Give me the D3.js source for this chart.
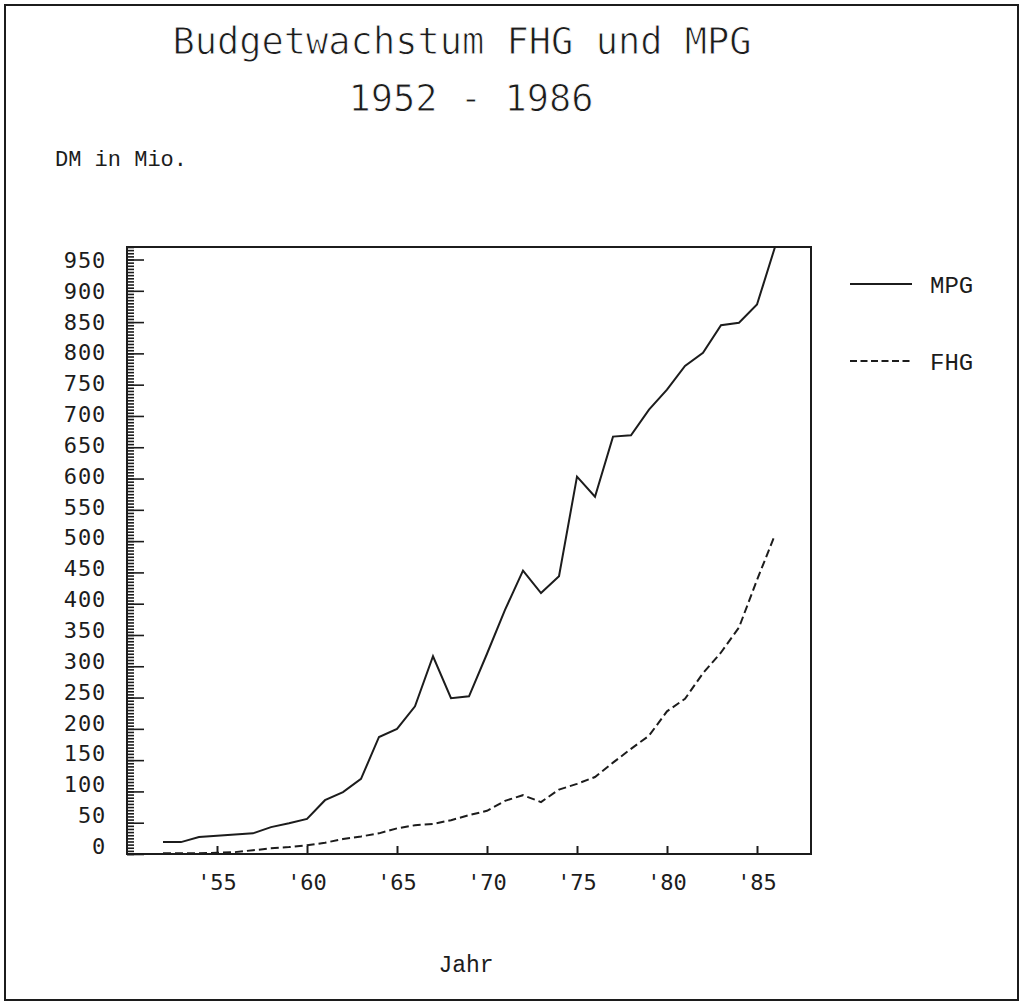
<!DOCTYPE html>
<html>
<head>
<meta charset="utf-8">
<script src="https://cdn.jsdelivr.net/npm/d3@7"></script>
<style>
  html, body { margin: 0; padding: 0; background: #fff; }
  svg { display: block; }
</style>
</head>
<body>
<svg id="chart" width="1029" height="1004"></svg>
<script>
// ---- data ----
const years = d3.range(1952, 1987);
const mpg = [19,19,27,29,31,33,43,49,56,86,99,120,187,200,236,316,249,252,320,390,453,417,444,603,571,667,669,710,742,780,801,845,849,878,970];
const fhg = [1,1,1,2,3,6,9,11,14,18,24,28,33,41,46,48,54,62,69,85,94,83,103,112,123,146,168,189,228,248,289,322,362,438,510];
const yMajorTicks = d3.range(0, 951, 50);
const yMinorTicks = d3.range(0, 971, 5);
const xTicks = [1955, 1960, 1965, 1970, 1975, 1980, 1985];
const xTickLabels = ["'55", "'60", "'65", "'70", "'75", "'80", "'85"];
const seriesNames = ["MPG", "FHG"];
const titleLines = ["Budgetwachstum FHG und MPG", "1952 - 1986"];
const yTitle = "DM in Mio.";
const xTitle = "Jahr";

const ink = "#1c1c1c";
const svg = d3.select("#chart");

// outer frame
svg.append("rect").attr("x", 5).attr("y", 5).attr("width", 1013).attr("height", 995)
  .attr("fill", "#fff").attr("stroke", ink).attr("stroke-width", 2);

const L = 127, R = 811, T = 247, B = 854;
const x = d3.scaleLinear().domain([1950, 1988]).range([L, R]);
const y = d3.scaleLinear().domain([0, 970]).range([B, T]);
const yLab = d3.scaleLinear().domain([0, 950]).range([846, 260]);

// plot box
svg.append("rect").attr("x", L).attr("y", T).attr("width", R - L).attr("height", B - T)
  .attr("fill", "none").attr("stroke", ink).attr("stroke-width", 2);

// y ticks (inward)
const gMinor = svg.append("g").attr("transform", `translate(${L},0)`)
  .call(d3.axisLeft(y).tickValues(yMinorTicks).tickSize(-7).tickFormat(""));
const gMajor = svg.append("g").attr("transform", `translate(${L},0)`)
  .call(d3.axisLeft(y).tickValues(yMajorTicks).tickSize(-17).tickFormat(""));
[gMinor, gMajor].forEach(g => {
  g.select(".domain").remove();
  g.selectAll("line").attr("stroke", ink).attr("stroke-width", 1.6);
});

// x ticks (inward)
const gx = svg.append("g").attr("transform", `translate(0,${B})`)
  .call(d3.axisBottom(x).tickValues(xTicks).tickSize(-8).tickFormat(""));
gx.select(".domain").remove();
gx.selectAll("line").attr("stroke", ink).attr("stroke-width", 2);

// y labels
svg.append("g").selectAll("text").data(yMajorTicks).join("text")
  .attr("x", 106).attr("y", d => yLab(d)).attr("dy", "0.36em")
  .attr("text-anchor", "end")
  .attr("font-family", "DejaVu Sans Mono").attr("font-size", 22)
  .attr("letter-spacing", 0.8).attr("fill", ink)
  .text(d => d);

// x labels
svg.append("g").selectAll("text").data(xTicks).join("text")
  .attr("x", d => x(d)).attr("y", 890)
  .attr("text-anchor", "middle")
  .attr("font-family", "DejaVu Sans Mono").attr("font-size", 22)
  .attr("fill", ink)
  .text((d, i) => xTickLabels[i]);

// lines
const line = d3.line().x((d, i) => x(years[i])).y(d => y(d));
svg.append("path").datum(mpg).attr("d", line)
  .attr("fill", "none").attr("stroke", ink).attr("stroke-width", 2).attr("stroke-linejoin", "miter");
svg.append("path").datum(fhg).attr("d", line)
  .attr("fill", "none").attr("stroke", ink).attr("stroke-width", 2).attr("stroke-dasharray", "8,4");

// legend
const legY = [284, 361];
const leg = svg.append("g");
leg.selectAll("line").data(seriesNames).join("line")
  .attr("x1", 850).attr("x2", 912).attr("y1", (d, i) => legY[i]).attr("y2", (d, i) => legY[i])
  .attr("stroke", ink).attr("stroke-width", 2)
  .attr("stroke-dasharray", (d, i) => i === 1 ? "7,3.5" : null);
leg.selectAll("text").data(seriesNames).join("text")
  .attr("x", 930).attr("y", (d, i) => legY[i]).attr("dy", "0.36em")
  .attr("font-family", "Liberation Mono").attr("font-size", 24).attr("fill", ink)
  .text(d => d);

// titles
svg.append("g").selectAll("text").data(titleLines).join("text")
  .attr("x", (d, i) => i === 0 ? 462 : 471).attr("y", (d, i) => i === 0 ? 54 : 111)
  .attr("text-anchor", "middle")
  .attr("font-family", "DejaVu Sans Mono").attr("font-size", 37).attr("fill", ink)
  .attr("stroke", "#fff").attr("stroke-width", 0.9).attr("paint-order", "fill")
  .text(d => d);

svg.append("text").attr("x", 55).attr("y", 166)
  .attr("font-family", "Liberation Mono").attr("font-size", 22).attr("fill", ink)
  .text(yTitle);

svg.append("text").attr("x", 466).attr("y", 972).attr("text-anchor", "middle")
  .attr("font-family", "Liberation Mono").attr("font-size", 23).attr("fill", ink)
  .text(xTitle);
</script>
</body>
</html>
